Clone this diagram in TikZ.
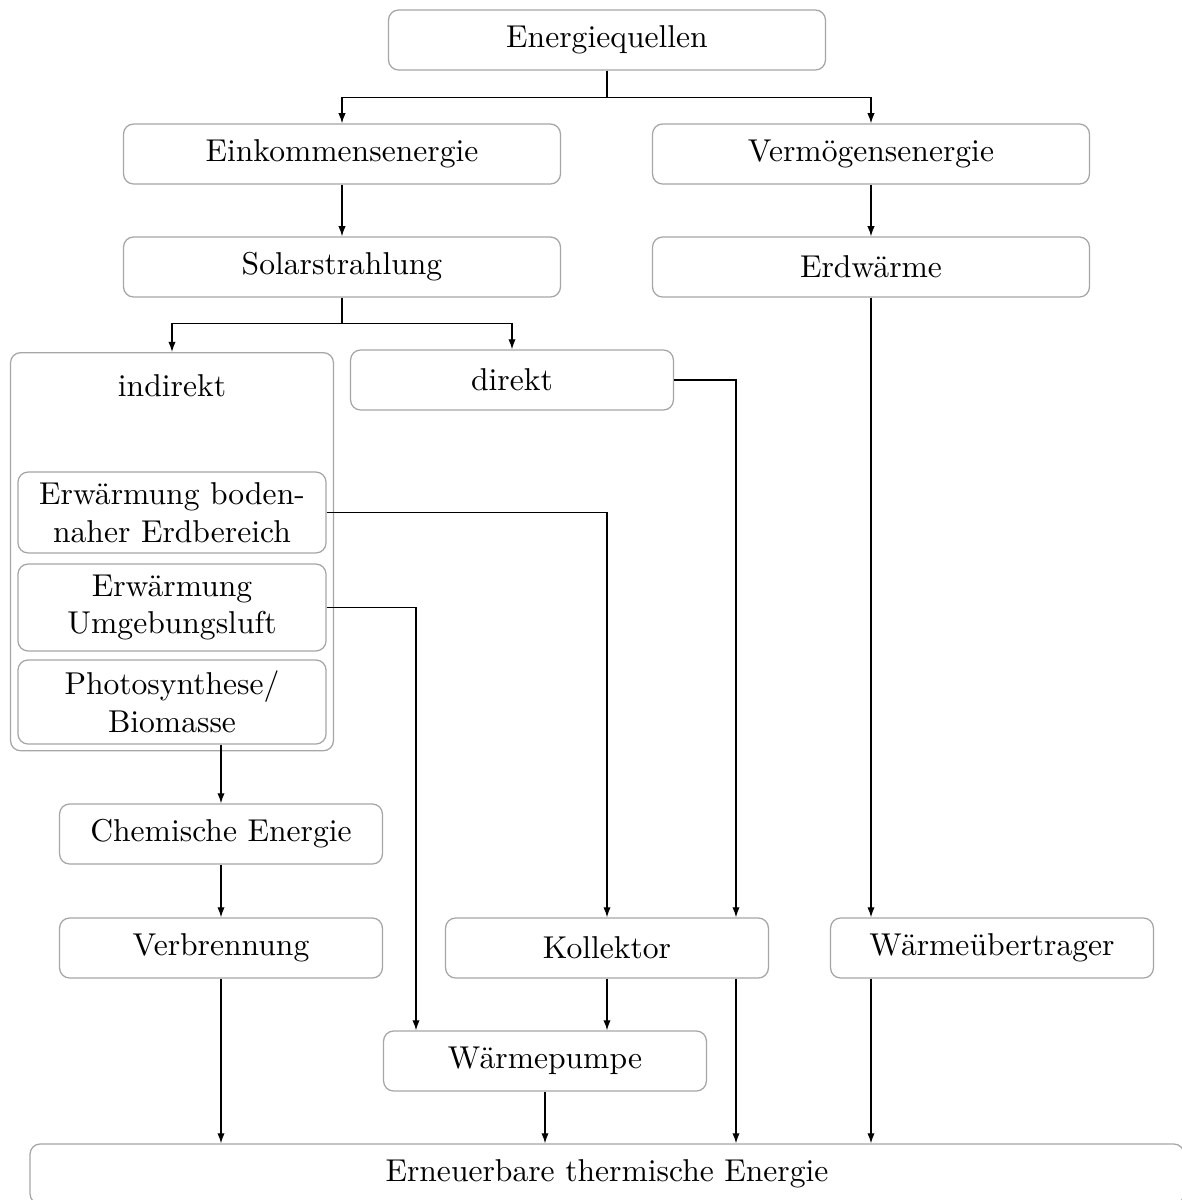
\documentclass[tikz,border=0pt]{standalone}
\usetikzlibrary{arrows.meta,calc}
\begin{document}
\begin{tikzpicture}[x=0.3165pt,y=-0.3165pt,
  box/.style={draw=black!35,line width=0.4pt,rounded corners=3.2pt,align=center,
    inner sep=0pt,minimum height=19pt,font=\fontsize{10}{12}\selectfont},
  wide/.style={box,minimum width=138.3pt},
  narrow/.style={box,minimum width=102.2pt},
  inner/.style={box,minimum width=97.5pt},
  arr/.style={line width=0.4pt,-{Latex[length=3.2pt,width=2.3pt]}},
  ln/.style={line width=0.4pt}]
\useasboundingbox (0,0) rectangle (1182,1200);

% top levels
\node[wide] (eq)  at (607,40)  {Energiequellen};
\node[wide] (ein) at (342,154) {Einkommensenergie};
\node[wide] (ver) at (871,154) {Verm\"ogensenergie};
\node[wide] (sol) at (342,267) {Solarstrahlung};
\node[wide] (erd) at (871,267) {Erdw\"arme};

% indirect branch with its three sub-boxes
\node[box,minimum width=102.2pt,minimum height=126pt,anchor=north] (ind) at (172,352) {};
\node[font=\fontsize{10}{12}\selectfont] (indt) at (172,386) {indirekt};
\node[inner,minimum height=25.6pt] (ebe) at (172,512.5) {Erw\"armung boden-\\naher Erdbereich};
\node[inner,minimum height=27.5pt] (eul) at (172,607.5) {Erw\"armung\\Umgebungsluft};
\node[inner,minimum height=26.6pt] (pho) at (172,702) {Photosynthese/\\Biomasse};

\node[narrow] (dir) at (512,380) {direkt};

% conversion stages
\node[narrow] (che) at (221,834) {Chemische Energie};
\node[narrow] (vbr) at (221,948) {Verbrennung};
\node[narrow] (kol) at (607,948) {Kollektor};
\node[narrow] (wue) at (992,948) {W\"arme\"ubertrager};
\node[narrow] (wp)  at (545,1061) {W\"armepumpe};
\node[box,minimum width=365.2pt] (ern) at (607,1174) {Erneuerbare thermische Energie};

% connectors
\draw[arr] (eq.south) -- ++(0,27) -| (ein.north);
\draw[arr] (eq.south) -- ++(0,27) -| (ver.north);
\draw[arr] (ein.south) -- (sol.north);
\draw[arr] (ver.south) -- (erd.north);
\draw[arr] (sol.south) -- ++(0,26) -| (ind.north);
\draw[arr] (sol.south) -- ++(0,26) -| (dir.north);
\draw[arr] (dir.east) -| ($(kol.north)+(129,0)$);
\draw[arr] (ebe.east) -| (kol.north);
\draw[arr] (eul.east) -| ($(wp.north)+(-129,0)$);
\draw[arr] (pho.south -| che.north) -- (che.north);
\draw[arr] (che.south) -- (vbr.north);
\draw[arr] (erd.south) -- (erd.south |- wue.north);
\draw[arr] (kol.south) -- (kol.south |- wp.north);
\draw[arr] (vbr.south) -- (vbr.south |- ern.north);
\draw[arr] (wp.south) -- (wp.south |- ern.north);
\draw[arr] ($(kol.south)+(129,0)$) -- ($(kol.south |- ern.north)+(129,0)$);
\draw[arr] (erd.south |- wue.south) -- (erd.south |- ern.north);
\end{tikzpicture}
\end{document}
